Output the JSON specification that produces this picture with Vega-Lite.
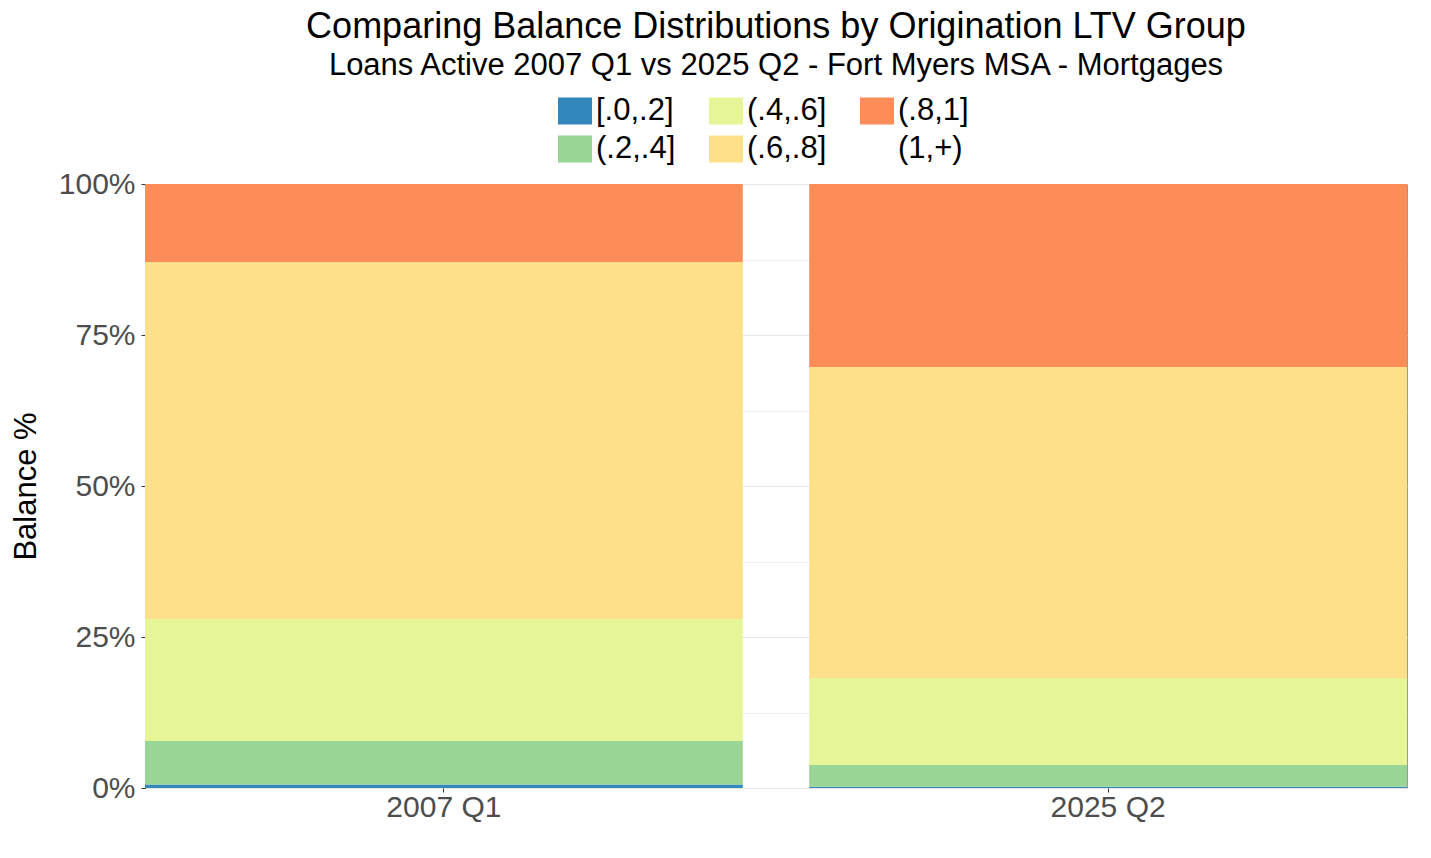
{
  "$schema": "https://vega.github.io/schema/vega-lite/v6.json",
  "width": 1262,
  "height": 604,
  "padding": {"left": 10, "top": 9, "right": 24, "bottom": 20},
  "background": "white",
  "title": {
    "text": "Comparing Balance Distributions by Origination LTV Group",
    "subtitle": "Loans Active 2007 Q1 vs 2025 Q2 - Fort Myers MSA - Mortgages",
    "anchor": "middle",
    "font": "Liberation Sans",
    "fontSize": 36,
    "fontWeight": "normal",
    "color": "black",
    "subtitleFont": "Liberation Sans",
    "subtitleFontSize": 31,
    "subtitleColor": "black",
    "subtitlePadding": 5,
    "offset": 12
  },
  "data": {
    "values": [
      {"period": "2007 Q1", "ltv": "[.0,.2]", "rank": 1, "pct": 0.6},
      {"period": "2007 Q1", "ltv": "(.2,.4]", "rank": 2, "pct": 7.2},
      {"period": "2007 Q1", "ltv": "(.4,.6]", "rank": 3, "pct": 20.2},
      {"period": "2007 Q1", "ltv": "(.6,.8]", "rank": 4, "pct": 59.1},
      {"period": "2007 Q1", "ltv": "(.8,1]", "rank": 5, "pct": 12.9},
      {"period": "2007 Q1", "ltv": "(1,+)", "rank": 6, "pct": 0.0},
      {"period": "2025 Q2", "ltv": "[.0,.2]", "rank": 1, "pct": 0.2},
      {"period": "2025 Q2", "ltv": "(.2,.4]", "rank": 2, "pct": 3.6},
      {"period": "2025 Q2", "ltv": "(.4,.6]", "rank": 3, "pct": 14.4},
      {"period": "2025 Q2", "ltv": "(.6,.8]", "rank": 4, "pct": 51.5},
      {"period": "2025 Q2", "ltv": "(.8,1]", "rank": 5, "pct": 30.3},
      {"period": "2025 Q2", "ltv": "(1,+)", "rank": 6, "pct": 0.0}
    ]
  },
  "mark": {"type": "bar"},
  "encoding": {
    "x": {
      "field": "period",
      "type": "nominal",
      "scale": {"paddingInner": 0.1, "paddingOuter": 0},
      "axis": {
        "title": null,
        "labelAngle": 0,
        "labelFont": "Liberation Sans",
        "labelFontSize": 30,
        "labelColor": "#4d4d4d",
        "labelPadding": 0,
        "tickSize": 4,
        "tickColor": "#333333",
        "domain": false
      }
    },
    "y": {
      "field": "pct",
      "type": "quantitative",
      "stack": "normalize",
      "scale": {"domain": [0, 1], "nice": false},
      "axis": {
        "title": "Balance %",
        "titleFont": "Liberation Sans",
        "titleFontSize": 31,
        "titleFontWeight": "normal",
        "titleColor": "black",
        "titlePadding": 16,
        "values": [0, 0.125, 0.25, 0.375, 0.5, 0.625, 0.75, 0.875, 1],
        "labelExpr": "(datum.value * 100) % 25 == 0 ? format(datum.value, '.0%') : ''",
        "labelFont": "Liberation Sans",
        "labelFontSize": 30,
        "labelColor": "#4d4d4d",
        "labelPadding": 6,
        "tickSize": 4,
        "tickColor": "#333333",
        "tickOpacity": {"condition": {"test": "(datum.value * 100) % 25 != 0", "value": 0}, "value": 1},
        "domainColor": "#555555",
        "grid": true,
        "gridColor": "#e6e6e6",
        "gridWidth": {"condition": {"test": "(datum.value * 100) % 25 != 0", "value": 0.6}, "value": 1.1}
      }
    },
    "color": {
      "field": "ltv",
      "type": "nominal",
      "scale": {
        "domain": ["[.0,.2]", "(.4,.6]", "(.8,1]", "(.2,.4]", "(.6,.8]", "(1,+)"],
        "range": ["#3288bd", "#e6f598", "#fc8d59", "#99d594", "#fee08b", "#ffffff"]
      },
      "legend": {
        "title": null,
        "orient": "none",
        "legendX": 413,
        "legendY": -90,
        "direction": "horizontal",
        "columns": 3,
        "symbolType": "M-1,-0.8H1V0.8H-1Z",
        "symbolSize": 1156,
        "symbolStrokeWidth": 0,
        "labelFont": "Liberation Sans",
        "labelFontSize": 31,
        "labelColor": "black",
        "labelOffset": 4,
        "columnPadding": 33,
        "rowPadding": 6,
        "padding": 0
      }
    },
    "order": {"field": "rank", "type": "quantitative"}
  },
  "config": {
    "view": {"stroke": "#9a9a9a", "strokeWidth": 1},
    "axis": {"labelFont": "Liberation Sans"}
  }
}
